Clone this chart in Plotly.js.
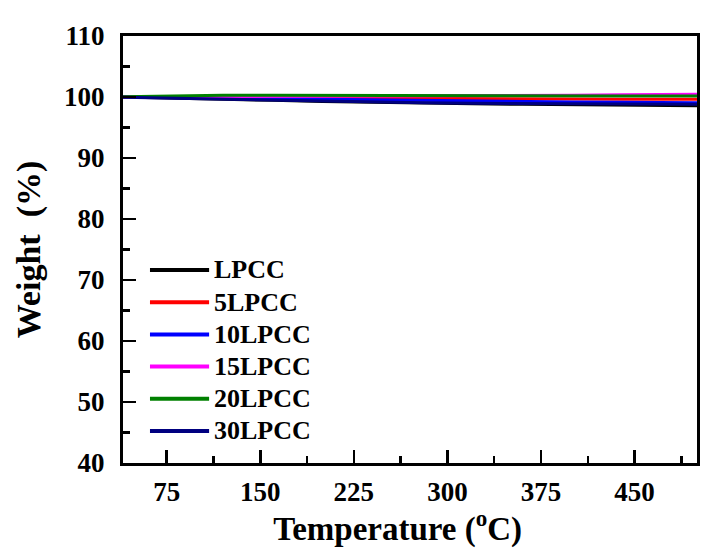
<!DOCTYPE html>
<html>
<head>
<meta charset="utf-8">
<script src="https://cdn.plot.ly/plotly-3.0.1.min.js"></script>
<style>
  html, body { margin: 0; padding: 0; background: #ffffff; }
  #chart { width: 704px; height: 548px; }
</style>
</head>
<body>
<div id="chart"></div>
<script>
// TGA weight curves of the LPCC series
const temperature = [40, 80, 120, 160, 200, 240, 280, 320, 360, 400, 440, 480, 500];

const seriesNames = ["LPCC", "5LPCC", "10LPCC", "15LPCC", "20LPCC", "30LPCC"];
const seriesColors = ["#000000", "#ff0000", "#0000ff", "#ff00ff", "#008000", "#000080"];

const wLPCC   = [100.0, 99.85, 99.65, 99.45, 99.25, 99.10, 98.98, 98.88, 98.80, 98.72, 98.66, 98.60, 98.58];
const w5LPCC  = [100.0, 99.95, 99.90, 99.85, 99.80, 99.76, 99.73, 99.70, 99.68, 99.66, 99.65, 99.64, 99.63];
const w10LPCC = [100.0, 99.90, 99.78, 99.66, 99.55, 99.45, 99.36, 99.28, 99.22, 99.17, 99.12, 99.08, 99.06];
const w15LPCC = [100.0, 100.02, 100.05, 100.08, 100.10, 100.13, 100.17, 100.20, 100.25, 100.30, 100.36, 100.42, 100.45];
const w20LPCC = [100.05, 100.20, 100.28, 100.30, 100.30, 100.28, 100.26, 100.24, 100.22, 100.20, 100.18, 100.17, 100.16];
const w30LPCC = [99.95, 99.80, 99.60, 99.42, 99.28, 99.16, 99.06, 98.98, 98.92, 98.88, 98.85, 98.83, 98.82];

const seriesValues = [wLPCC, w5LPCC, w10LPCC, w15LPCC, w20LPCC, w30LPCC];

const FONT = "'Liberation Serif', 'Times New Roman', serif";

const traces = seriesNames.map((name, i) => ({
  type: "scatter",
  mode: "lines",
  name: name,
  x: temperature,
  y: seriesValues[i],
  line: { color: seriesColors[i], width: 3 },
  showlegend: false
}));

// Legend drawn inside the plot: a line sample plus a bold label per series
const legX0 = 0.047, legX1 = 0.150, legTextX = 0.155;
const legTop = 0.452, legStep = 0.0754;
const shapes = [];
const annotations = [];
seriesNames.forEach((name, i) => {
  const yy = legTop - i * legStep;
  shapes.push({
    type: "line", xref: "paper", yref: "paper",
    x0: legX0, x1: legX1, y0: yy, y1: yy,
    line: { color: seriesColors[i], width: 4 }
  });
  annotations.push({
    xref: "paper", yref: "paper", x: legTextX, y: yy,
    xanchor: "left", yanchor: "middle", showarrow: false,
    text: "<b>" + name + "</b>",
    font: { family: FONT, size: 26, color: "#000000" }
  });
});

const layout = {
  width: 704,
  height: 548,
  margin: { l: 123, r: 7, t: 36, b: 85 },
  paper_bgcolor: "#ffffff",
  plot_bgcolor: "#ffffff",
  font: { family: FONT, color: "#000000" },
  showlegend: false,
  xaxis: {
    range: [40, 500],
    tick0: 0,
    dtick: 75,
    ticks: "inside",
    ticklen: 13,
    tickwidth: 2.5,
    tickcolor: "#000000",
    minor: { dtick: 37.5, tick0: 0, ticks: "inside", ticklen: 7, tickwidth: 2.5, tickcolor: "#000000" },
    showline: true,
    linewidth: 3,
    linecolor: "#000000",
    mirror: true,
    showgrid: false,
    zeroline: false,
    tickfont: { family: FONT, size: 27, color: "#000000", weight: "bold" },
    ticklabelstandoff: 3,
    title: {
      // trailing spaces nudge the centred title slightly to the left
      text: "<b>Temperature (<sup>o</sup>C)\u00a0\u00a0\u00a0</b>",
      font: { family: FONT, size: 33, color: "#000000" },
      standoff: 6
    }
  },
  yaxis: {
    range: [40, 110],
    tick0: 0,
    dtick: 10,
    ticks: "inside",
    ticklen: 13,
    tickwidth: 2.5,
    tickcolor: "#000000",
    minor: { dtick: 5, tick0: 0, ticks: "inside", ticklen: 7, tickwidth: 2.5, tickcolor: "#000000" },
    showline: true,
    linewidth: 3,
    linecolor: "#000000",
    mirror: true,
    showgrid: false,
    zeroline: false,
    tickfont: { family: FONT, size: 27, color: "#000000", weight: "bold" },
    ticklabelstandoff: 10,
    title: {
      text: "<b>Weight\u00a0\u00a0(%)</b>",
      font: { family: FONT, size: 34, color: "#000000" },
      standoff: 14
    }
  },
  shapes: shapes,
  annotations: annotations
};

Plotly.newPlot("chart", traces, layout, { displayModeBar: false, staticPlot: true });
</script>
</body>
</html>
